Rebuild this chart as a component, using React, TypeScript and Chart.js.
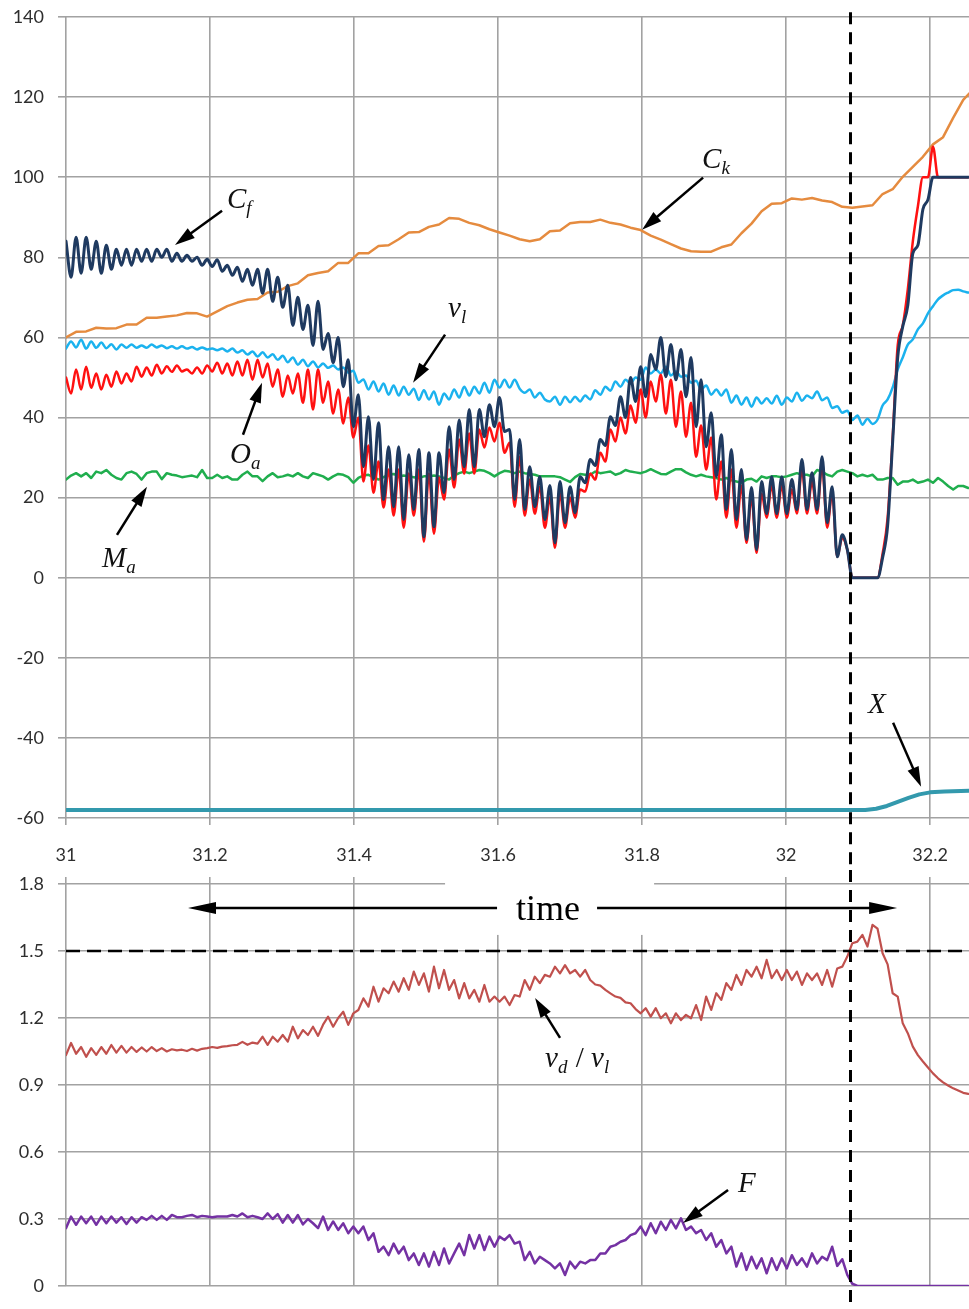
import React, { useEffect, useRef } from 'react';
import { Chart, registerables } from 'chart.js';

Chart.register(...registerables);

// ---------- sampling grid for the oscillating traces ----------
const T0 = 31;
const DT = 0.007;

// ---------- top chart series ----------
const cfValues = [
  84, 75, 85, 76, 85, 77, 84, 76, 83, 77,
  82, 78, 82, 78, 82, 79, 82, 79, 82, 80,
  82, 79, 81, 79, 80.5, 79, 80, 78, 79.5, 77.7,
  79.4, 76.5, 78, 75.5, 77.5, 74, 77, 73, 77, 71,
  77, 69, 75, 67.5, 73, 63, 70, 62, 68, 58,
  69, 57, 61, 53.7, 60, 47.7, 54.4, 37.7, 45.7, 27.7,
  40.2, 24.5, 38.7, 19.5, 32.7, 17.7, 32.7, 14.5, 30.7, 17,
  32, 10.2, 31.2, 12.7, 31.2, 21.2, 37.7, 24.5, 39.4, 27.7,
  42, 27.7, 42, 35.2, 43.2, 37.7, 45, 36.5, 37, 19.5,
  34.5, 17, 27.7, 17.7, 25.2, 14.5, 23, 8.7, 24, 13.7,
  22.7, 16.2, 25.2, 23.7, 29.5, 28, 34.5, 33, 40.2, 38,
  45.2, 40, 50, 44, 52.7, 45.2, 55.7, 52, 60, 50.2,
  58.2, 49.4, 57, 45.2, 55, 37.7, 49.4, 32.7, 41.2, 25.2,
  35.7, 17, 32, 14.5, 27, 9.5, 22.5, 7, 24, 16,
  25.2, 16, 25.2, 16, 24.5, 17, 29.5, 17, 26.2, 17,
  30.2, 13.7, 22.7, 5.2, 10.7, 7, 0, 0, 0, 0,
  0, 0, 5, 13, 34, 55, 62.7, 68, 81, 83,
  92, 94.4, 100, 100, 100, 100, 100, 100, 100, 100,
];

const oaValues = [
  50, 46, 52, 47, 52.7, 47.4, 51, 47, 50.7, 47.7,
  51.5, 48.5, 51, 49, 52.7, 50.2, 52.5, 50.5, 53.2, 51,
  52.8, 51.4, 53, 51.5, 52, 51, 52.5, 51, 53, 51.5,
  53.7, 51, 53.5, 50.5, 54, 50.5, 54.4, 49.4, 54.4, 50,
  53.5, 47.7, 52, 45.2, 50.5, 46, 51, 43.7, 52, 42,
  52, 43.7, 49, 41, 47, 38.5, 45, 35, 40, 24,
  33, 21.2, 29, 17.5, 27, 15.5, 27, 12.5, 26, 15.5,
  27, 9, 26, 11, 25, 19.5, 32, 22.5, 34.5, 26,
  36, 26, 37, 32.5, 37.5, 34, 38.7, 31.2, 33.7, 17.7,
  30.2, 15.5, 24.5, 16, 22.7, 12.5, 20, 7.5, 21, 12.5,
  20, 15, 22, 21.5, 26, 24.5, 31.2, 29, 37, 34,
  40, 36, 43, 38.7, 47, 40, 49, 44, 50.7, 41,
  49.4, 37.7, 46.5, 35.2, 43.7, 30.2, 38, 27, 35, 19.5,
  29, 15, 27, 12.5, 23, 8.7, 20, 6.2, 21, 15,
  23, 15, 23, 15, 22, 16, 27, 16, 24, 16,
  28, 12.5, 21, 5.2, 10, 7, 0, 0, 0, 0,
  0, 0, 6, 15, 35, 58, 63, 72, 84, 92.7,
  100, 100, 107.6, 100, 100, 100, 100, 100, 100, 100,
];

const vlValues = [
  57.2, 59, 57.5, 59.4, 57.2, 59, 57.4, 58.7, 57.3, 58.3,
  57, 58.2, 57.4, 58.2, 57.4, 58, 57.4, 58.2, 57.5, 58,
  57.3, 57.8, 57.2, 57.8, 57.2, 57.6, 57, 57.5, 57, 57.2,
  56.8, 57.2, 56.5, 57.2, 56.2, 56.8, 55.7, 56.5, 55.2, 56.3,
  55, 55.8, 54.4, 55.4, 53.8, 55, 53.2, 54.4, 52.8, 54,
  52.5, 53.5, 52.4, 53, 52, 52.5, 51.2, 51.7, 48.7, 49.5,
  47, 49, 46.5, 48.5, 45.7, 48, 45.5, 47.7, 45.7, 47.2,
  44.4, 46.8, 44.5, 46.5, 43.2, 46, 44.5, 47, 45, 47.7,
  45.5, 47.7, 46, 48.7, 46.2, 49.4, 47.5, 49.4, 47.5, 49.4,
  47.2, 46.2, 47, 45, 46.2, 44.5, 44, 45.2, 43.2, 45.2,
  43.8, 45.2, 44, 45.5, 44.5, 46.8, 45.7, 47.7, 46.7, 49,
  47.7, 49.4, 48.5, 50, 49.4, 52.5, 51, 52, 51, 52.7,
  50.5, 51.5, 50.2, 50.5, 48.7, 49.2, 47, 48, 45.7, 47,
  45.5, 47, 43.7, 45.5, 43.2, 45, 42.7, 45, 43.5, 44.8,
  43.5, 45.4, 43.2, 45, 44, 46.2, 44.2, 45.5, 44.8, 46.5,
  44.3, 45, 42.4, 42.8, 41.2, 41.7, 39.4, 40.5, 38.2, 39.7,
  38.4, 39.5, 43, 44.5, 47.5, 52, 55, 58.2, 59.5, 62,
  63.5, 66, 67.8, 69.5, 70.5, 71.2, 71.8, 71.9, 71.5, 71.2,
];

const maValues = [
  24.5, 25.5, 26.1, 25.3, 26.1, 24.9, 26.5, 26.1, 26.9, 25.7,
  24.9, 24.5, 26.1, 26.5, 25.9, 24.5, 26.1, 26.5, 26.5, 24.6,
  26.1, 25.7, 25.5, 25.1, 25.3, 25.5, 25.1, 26.9, 24.9, 24.9,
  25.7, 24.9, 25.3, 24.5, 24.5, 25.7, 26.5, 25.3, 25.3, 24.1,
  25.3, 26.1, 25.1, 25.3, 25.7, 25.3, 26.1, 25.3, 24.9, 26.1,
  25.7, 25.3, 24.5, 25.3, 25.9, 25.7, 25.1, 23.7, 24.9, 25.5,
  25.7, 25.1, 24.5, 25.1, 25.7, 25.9, 25.3, 25.5, 25.3, 25.1,
  24.9, 25.3, 25.3, 25.5, 25.3, 24.9, 24.5, 25.5, 26.1, 26.5,
  26.1, 26.5, 26.9, 26.7, 26.1, 25.3, 26.1, 26.7, 26.5, 26.1,
  26.5, 26.1, 25.9, 25.7, 25.3, 25.3, 25.3, 25.3, 25.1, 24.5,
  23.9, 25.1, 25.9, 25.7, 25.7, 26.5, 26.1, 26.3, 26.5, 25.7,
  26.1, 26.9, 26.5, 26.3, 26.1, 26.5, 27.1, 26.5, 25.9, 25.8,
  26.5, 27.1, 27.1, 26.3, 25.7, 25.3, 25.7, 25.3, 25.1, 24.9,
  24.5, 24.9, 24.3, 24, 23.7, 24.5, 24.7, 24, 25.3, 24.9,
  25.3, 25.3, 25.1, 25.3, 25.7, 26.1, 25.7, 25.7, 25.3, 26.9,
  26.5, 25.7, 25.3, 26.5, 26.9, 26.5, 26.1, 25.3, 25.7, 25.3,
  25.7, 24.5, 24.5, 24.9, 24.9, 23.2, 24, 24, 24.5, 23.7,
  24, 24.5, 23.7, 24.9, 24, 22.9, 22, 22.9, 22.9, 22.4,
];

// Ck is smoother: its own coarser time samples
const ckTimes = [
  31, 31.014, 31.028, 31.042, 31.056, 31.07, 31.084, 31.098, 31.112, 31.126,
  31.14, 31.154, 31.168, 31.182, 31.196, 31.21, 31.224, 31.238, 31.252, 31.266,
  31.28, 31.294, 31.308, 31.322, 31.336, 31.35, 31.364, 31.378, 31.392, 31.406,
  31.42, 31.434, 31.448, 31.462, 31.476, 31.49, 31.504, 31.518, 31.532, 31.546,
  31.56, 31.574, 31.588, 31.602, 31.616, 31.63, 31.644, 31.658, 31.672, 31.686,
  31.7, 31.714, 31.728, 31.742, 31.756, 31.77, 31.784, 31.798, 31.812, 31.826,
  31.84, 31.854, 31.868, 31.882, 31.896, 31.91, 31.924, 31.938, 31.952, 31.966,
  31.98, 31.994, 32.008, 32.022, 32.036, 32.05, 32.064, 32.078, 32.092, 32.106,
  32.12, 32.134, 32.148, 32.162, 32.176, 32.19, 32.204, 32.218, 32.232, 32.246,
  32.26,
];
const ckValues = [
  60, 61.4, 61.5, 62.4, 62.2, 62.3, 63.2, 63.2, 64.9, 64.9,
  65.2, 65.5, 66.1, 66, 65.2, 66.5, 67.8, 68.7, 69.4, 69.6,
  71.2, 71.4, 72.8, 73.5, 75.5, 76.1, 76.5, 78.6, 78.6, 81,
  81, 82.8, 83, 84.5, 86.2, 86.3, 87.6, 88.2, 89.8, 89.6,
  88.6, 88, 87, 86.2, 85.4, 84.5, 84, 84.5, 86.5, 86.7,
  88.5, 88.8, 88.8, 89.4, 88.6, 88.2, 87.4, 86.8, 85.4, 84.4,
  83.3, 82.2, 81.5, 81.4, 81.4, 82.5, 83.2, 86, 88.4, 91.5,
  93.4, 93.5, 94.7, 94.4, 94.8, 94.2, 93.8, 92.6, 92.4, 92.7,
  93, 95.8, 97, 100.1, 102.6, 105.1, 108.2, 110, 114.8, 119.3,
  122,
];

const xTimes = [31, 32.11, 32.125, 32.14, 32.155, 32.17, 32.185, 32.2, 32.22, 32.255];
const xValues = [-58, -58, -57.7, -57, -56, -55, -54.1, -53.6, -53.4, -53.2];

// ---------- bottom chart series ----------
const ratioValues = [
  1.034, 1.088, 1.04, 1.07, 1.026, 1.065, 1.035, 1.07, 1.04, 1.079,
  1.045, 1.075, 1.045, 1.07, 1.048, 1.068, 1.05, 1.07, 1.052, 1.065,
  1.05, 1.06, 1.055, 1.058, 1.052, 1.062, 1.054, 1.062, 1.065, 1.07,
  1.066, 1.072, 1.074, 1.078, 1.08, 1.093, 1.08, 1.09, 1.085, 1.116,
  1.08, 1.116, 1.094, 1.124, 1.094, 1.161, 1.109, 1.146, 1.124, 1.161,
  1.12, 1.17, 1.206, 1.161, 1.2, 1.228, 1.169, 1.221, 1.236, 1.288,
  1.251, 1.34, 1.273, 1.333, 1.311, 1.363, 1.318, 1.378, 1.326, 1.408,
  1.348, 1.4, 1.318, 1.43, 1.333, 1.415, 1.326, 1.37, 1.288, 1.356,
  1.288, 1.326, 1.273, 1.348, 1.273, 1.296, 1.273, 1.296, 1.258, 1.303,
  1.296, 1.37, 1.326, 1.385, 1.356, 1.393, 1.385, 1.43, 1.4, 1.437,
  1.4, 1.415, 1.385, 1.415, 1.37, 1.35, 1.345, 1.326, 1.31, 1.296,
  1.29, 1.27, 1.266, 1.24, 1.221, 1.244, 1.206, 1.244, 1.199, 1.221,
  1.176, 1.221, 1.191, 1.214, 1.199, 1.258, 1.191, 1.296, 1.236, 1.311,
  1.281, 1.356, 1.326, 1.393, 1.348, 1.415, 1.385, 1.43, 1.378, 1.46,
  1.378, 1.415, 1.37, 1.415, 1.37, 1.408, 1.348, 1.4, 1.37, 1.4,
  1.348, 1.415, 1.34, 1.422, 1.43, 1.475, 1.535, 1.542, 1.572, 1.52,
  1.617, 1.6, 1.49, 1.44, 1.311, 1.296, 1.176, 1.132, 1.072, 1.034,
  1.005, 0.978, 0.952, 0.93, 0.912, 0.898, 0.885, 0.875, 0.865, 0.86,
];

const fValues = [
  0.259, 0.311, 0.274, 0.311, 0.281, 0.311, 0.274, 0.311, 0.281, 0.311,
  0.284, 0.308, 0.278, 0.308, 0.284, 0.308, 0.296, 0.314, 0.296, 0.314,
  0.296, 0.318, 0.308, 0.308, 0.314, 0.318, 0.308, 0.314, 0.311, 0.308,
  0.311, 0.311, 0.311, 0.318, 0.311, 0.325, 0.308, 0.314, 0.308, 0.3,
  0.325, 0.3, 0.322, 0.284, 0.318, 0.284, 0.318, 0.276, 0.3, 0.281,
  0.259, 0.311, 0.251, 0.289, 0.251, 0.281, 0.236, 0.266, 0.236, 0.266,
  0.206, 0.236, 0.153, 0.176, 0.138, 0.19, 0.146, 0.176, 0.116, 0.146,
  0.094, 0.146, 0.087, 0.153, 0.094, 0.168, 0.101, 0.146, 0.19, 0.138,
  0.228, 0.168, 0.228, 0.161, 0.221, 0.176, 0.221, 0.206, 0.228, 0.19,
  0.198, 0.116, 0.153, 0.101, 0.131, 0.116, 0.101, 0.079, 0.101, 0.049,
  0.109, 0.079, 0.109, 0.101, 0.116, 0.116, 0.146, 0.146, 0.176, 0.183,
  0.198, 0.206, 0.228, 0.236, 0.266, 0.228, 0.281, 0.236, 0.288, 0.251,
  0.296, 0.258, 0.303, 0.251, 0.266, 0.236, 0.251, 0.206, 0.236, 0.176,
  0.206, 0.146, 0.176, 0.087, 0.146, 0.072, 0.131, 0.079, 0.124, 0.057,
  0.124, 0.072, 0.124, 0.079, 0.138, 0.094, 0.124, 0.087, 0.146, 0.101,
  0.131, 0.116, 0.176, 0.09, 0.12, 0.05, 0.01, 0, 0, 0,
  0, 0, 0, 0, 0, 0, 0, 0, 0, 0,
  0, 0, 0, 0, 0, 0, 0, 0, 0, 0,
];

// ---------- axes ----------
const xTicks = [31, 31.2, 31.4, 31.6, 31.8, 32, 32.2];
const topYTicks = [-60, -40, -20, 0, 20, 40, 60, 80, 100, 120, 140];
const bottomYTicks = [0, 0.3, 0.6, 0.9, 1.2, 1.5, 1.8];
const X_MIN = 31;
const X_MAX = 32.254;
const EVENT_TIME = 32.089;
const RATIO_LIMIT = 1.5;

const gridColor = '#A2A2A2';
const tickFont = { family: 'Lato', size: 18 };
const tickColor = '#2E2E2E';

const onGrid = (vals: number[]) => vals.map((v, k) => ({ x: T0 + DT * k, y: v }));
const zip = (ts: number[], vs: number[]) => vs.map((v, i) => ({ x: ts[i], y: v }));

function line(data: any[], color: string, width: number, order: number, smooth: boolean) {
  return {
    data,
    borderColor: color,
    backgroundColor: color,
    borderWidth: width,
    pointRadius: 0,
    tension: smooth ? 0.4 : 0,
    cubicInterpolationMode: smooth ? 'monotone' : 'default',
    borderJoinStyle: 'round',
    borderCapStyle: 'round',
    fill: false,
    order,
  };
}

// ---------- annotation drawing ----------
function drawArrow(ctx: any, x1: number, y1: number, x2: number, y2: number, head: number, half: number) {
  const ang = Math.atan2(y2 - y1, x2 - x1);
  const bx = x2 - Math.cos(ang) * head;
  const by = y2 - Math.sin(ang) * head;
  ctx.beginPath();
  ctx.moveTo(x1, y1);
  ctx.lineTo(bx + Math.cos(ang) * 2, by + Math.sin(ang) * 2);
  ctx.stroke();
  ctx.beginPath();
  ctx.moveTo(x2, y2);
  ctx.lineTo(bx + Math.cos(ang + Math.PI / 2) * half, by + Math.sin(ang + Math.PI / 2) * half);
  ctx.lineTo(bx + Math.cos(ang - Math.PI / 2) * half, by + Math.sin(ang - Math.PI / 2) * half);
  ctx.closePath();
  ctx.fill();
}

function drawMath(ctx: any, x: number, y: number, segs: any[], size: number) {
  let cx = x;
  for (const s of segs) {
    const sz = s.sub ? Math.round(size * 0.66) : size;
    ctx.font = `${s.upright ? '' : 'italic '}${sz}px "Liberation Serif", "DejaVu Serif", serif`;
    ctx.textAlign = 'left';
    ctx.textBaseline = 'alphabetic';
    ctx.fillText(s.t, cx, y + (s.sub ? size * 0.22 : 0));
    cx += ctx.measureText(s.t).width + (s.sub ? 1 : 0);
  }
}

function annotationPlugin(id: string, items: any[]) {
  return {
    id,
    afterDatasetsDraw(chart: any) {
      const { ctx, chartArea } = chart;
      const sx = chart.scales.x;
      const sy = chart.scales.y;
      const px = (v: number) => sx.getPixelForValue(v);
      const py = (v: number) => sy.getPixelForValue(v);
      ctx.save();
      for (const a of items) {
        if (a.kind === 'box') {
          ctx.fillStyle = '#ffffff';
          const x1 = px(a.x1), x2 = px(a.x2);
          const y1 = a.toTop ? 0 : py(a.y1);
          const y2 = py(a.y2);
          ctx.fillRect(x1, y1, x2 - x1, y2 - y1);
        } else if (a.kind === 'hdash') {
          ctx.strokeStyle = '#000';
          ctx.lineWidth = 2.5;
          ctx.setLineDash([14, 7]);
          ctx.beginPath();
          ctx.moveTo(chartArea.left, py(a.y));
          ctx.lineTo(chartArea.right, py(a.y));
          ctx.stroke();
          ctx.setLineDash([]);
        } else if (a.kind === 'vdash') {
          ctx.strokeStyle = '#000';
          ctx.lineWidth = 3;
          ctx.setLineDash([12, 8]);
          ctx.beginPath();
          const x = Math.round(px(a.x)) + 0.5;
          ctx.moveTo(x, a.fromValue !== undefined ? py(a.fromValue) : 0);
          ctx.lineTo(x, chart.height);
          ctx.stroke();
          ctx.setLineDash([]);
        } else if (a.kind === 'arrow') {
          ctx.strokeStyle = '#000';
          ctx.fillStyle = '#000';
          ctx.lineWidth = a.width || 2.5;
          drawArrow(ctx, px(a.x1), py(a.y1), px(a.x2), py(a.y2), a.head || 20, a.half || 6);
        } else if (a.kind === 'math') {
          ctx.fillStyle = '#111';
          drawMath(ctx, px(a.x), py(a.y), a.segs, a.size || 29);
        } else if (a.kind === 'text') {
          ctx.fillStyle = '#000';
          ctx.font = a.font;
          ctx.textAlign = 'center';
          ctx.textBaseline = 'alphabetic';
          ctx.fillText(a.text, px(a.x), py(a.y));
        }
      }
      ctx.restore();
    },
  };
}

const topAnnotations = [
  { kind: 'vdash', x: EVENT_TIME, fromValue: 141.2 },
  { kind: 'math', x: 31.2236, y: 92.4, segs: [{ t: 'C' }, { t: 'f', sub: true }] },
  { kind: 'arrow', x1: 31.2167, y1: 91.6, x2: 31.1514, y2: 83.1 },
  { kind: 'math', x: 31.8833, y: 102.4, segs: [{ t: 'C' }, { t: 'k', sub: true }] },
  { kind: 'arrow', x1: 31.8847, y1: 99.9, x2: 31.8, y2: 86.9 },
  { kind: 'math', x: 31.5306, y: 65.2, segs: [{ t: 'v' }, { t: 'l', sub: true }] },
  { kind: 'arrow', x1: 31.5264, y1: 60.7, x2: 31.4819, y2: 48.7 },
  { kind: 'math', x: 31.2278, y: 28.7, segs: [{ t: 'O' }, { t: 'a', sub: true }] },
  { kind: 'arrow', x1: 31.2458, y1: 35.7, x2: 31.2722, y2: 48.7 },
  { kind: 'math', x: 31.05, y: 2.7, segs: [{ t: 'M' }, { t: 'a', sub: true }] },
  { kind: 'arrow', x1: 31.0708, y1: 10.7, x2: 31.1125, y2: 22.7 },
  { kind: 'math', x: 32.1139, y: -33.7, segs: [{ t: 'X' }] },
  { kind: 'arrow', x1: 32.1486, y1: -36.2, x2: 32.1875, y2: -52.2 },
];

const bottomAnnotations = [
  { kind: 'box', x1: 31.5264, x2: 31.8167, toTop: true, y2: 1.572 },
  { kind: 'hdash', y: RATIO_LIMIT },
  { kind: 'vdash', x: EVENT_TIME },
  { kind: 'text', x: 31.6694, y: 1.6391, text: 'time', font: '36px "Liberation Serif", "DejaVu Serif", serif' },
  { kind: 'arrow', x1: 31.5986, y1: 1.693, x2: 31.1694, y2: 1.693, head: 28, half: 6, width: 2.5 },
  { kind: 'arrow', x1: 31.7375, y1: 1.693, x2: 32.1542, y2: 1.693, head: 28, half: 6, width: 2.5 },
  { kind: 'math', x: 31.6653, y: 0.981, segs: [{ t: 'v' }, { t: 'd', sub: true }, { t: ' / ', upright: true }, { t: 'v' }, { t: 'l', sub: true }] },
  { kind: 'arrow', x1: 31.6861, y1: 1.111, x2: 31.6514, y2: 1.29 },
  { kind: 'math', x: 31.9333, y: 0.421, segs: [{ t: 'F' }] },
  { kind: 'arrow', x1: 31.9194, y1: 0.43, x2: 31.8569, y2: 0.282 },
];

function xScale(position: string, showLabels: boolean, height: number) {
  return {
    type: 'linear',
    position,
    min: X_MIN,
    max: X_MAX,
    afterBuildTicks: (ax: any) => {
      ax.ticks = xTicks.map((v) => ({ value: v }));
    },
    afterFit: (s: any) => {
      s.height = height;
      s.paddingLeft = 0;
      s.paddingRight = 0;
    },
    ticks: {
      display: showLabels,
      autoSkip: false,
      maxRotation: 0,
      font: tickFont,
      color: tickColor,
      padding: 19,
      callback: (v: any) => String(v),
    },
    grid: { color: gridColor, lineWidth: 1.6, tickLength: 7, drawTicks: true },
    border: { display: false },
  };
}

function yScale(min: number, max: number, ticks: number[], fmt: (v: number) => string) {
  return {
    type: 'linear',
    min,
    max,
    afterBuildTicks: (ax: any) => {
      ax.ticks = ticks.map((v) => ({ value: v }));
    },
    afterFit: (s: any) => {
      s.width = 66;
      s.paddingTop = 0;
      s.paddingBottom = 0;
    },
    ticks: {
      font: tickFont,
      color: tickColor,
      padding: 14,
      callback: (v: any) => fmt(Number(v)),
    },
    grid: { color: gridColor, lineWidth: 1.6, tickLength: 8, drawTicks: true },
    border: { display: false },
  };
}

export default function App() {
  const topRef = useRef<HTMLCanvasElement>(null);
  const bottomRef = useRef<HTMLCanvasElement>(null);

  useEffect(() => {
    const common = {
      responsive: false,
      animation: false,
      devicePixelRatio: 1,
      events: [],
      plugins: { legend: { display: false }, tooltip: { enabled: false } },
    };

    const top = new Chart(topRef.current as any, {
      type: 'line',
      data: {
        datasets: [
          line(onGrid(cfValues), '#1F3A60', 3, 1, true),
          line(onGrid(oaValues), '#FF1111', 2.5, 2, true),
          line(zip(ckTimes, ckValues), '#E58B3F', 2.5, 3, false),
          line(onGrid(vlValues), '#1BB2EE', 2.5, 4, true),
          line(onGrid(maValues), '#20AE4E', 2.5, 5, false),
          line(zip(xTimes, xValues), '#3399AD', 4, 6, false),
        ] as any,
      },
      options: {
        ...common,
        layout: { padding: { top: 17, right: 0, bottom: 0, left: 0 } },
        scales: {
          x: xScale('bottom', true, 52),
          y: yScale(-60, 140, topYTicks, (v) => String(v)),
        },
      } as any,
      plugins: [annotationPlugin('topAnn', topAnnotations)],
    });

    const bottom = new Chart(bottomRef.current as any, {
      type: 'line',
      data: {
        datasets: [
          line(onGrid(ratioValues), '#C0504D', 2.2, 1, false),
          line(onGrid(fValues), '#7431A3', 2.5, 2, false),
        ] as any,
      },
      options: {
        ...common,
        layout: { padding: { top: 0, right: 0, bottom: 23, left: 0 } },
        scales: {
          x: xScale('top', false, 14),
          y: yScale(0, 1.8, bottomYTicks, (v) => (v === 0 ? '0' : v.toFixed(1))),
        },
      } as any,
      plugins: [annotationPlugin('bottomAnn', bottomAnnotations)],
    });

    return () => {
      top.destroy();
      bottom.destroy();
    };
  }, []);

  return (
    <div
      style={{
        position: 'absolute',
        left: 0,
        top: 0,
        width: 969,
        height: 1309,
        background: '#ffffff',
        overflow: 'hidden',
      }}
    >
      <canvas
        ref={topRef}
        width={969}
        height={870}
        style={{ position: 'absolute', left: 0, top: 0, width: 969, height: 870 }}
      />
      <canvas
        ref={bottomRef}
        width={969}
        height={439}
        style={{ position: 'absolute', left: 0, top: 870, width: 969, height: 439 }}
      />
    </div>
  );
}
